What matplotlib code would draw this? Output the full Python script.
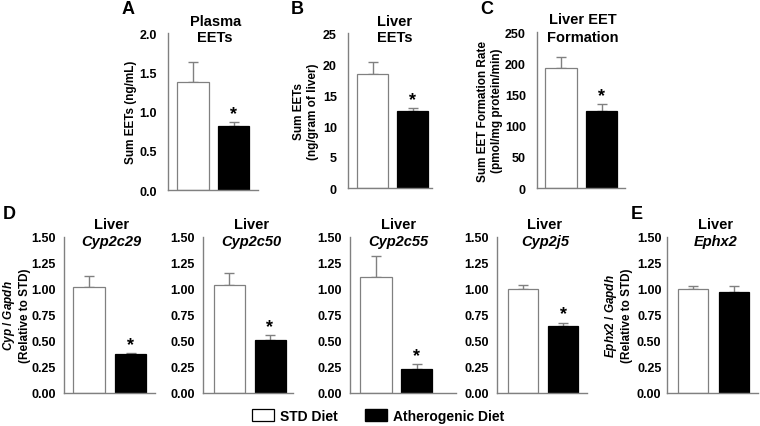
import matplotlib
matplotlib.use('Agg')
import matplotlib.pyplot as plt
from matplotlib.patches import Patch

plt.rcParams['font.family'] = ['Liberation Sans', 'DejaVu Sans']
plt.rcParams['font.weight'] = 'bold'
plt.rcParams['mathtext.fontset'] = 'custom'
plt.rcParams['mathtext.rm'] = 'Liberation Sans:bold'
plt.rcParams['mathtext.it'] = 'Liberation Sans:italic:bold'

# data (STD diet, atherogenic diet), upper error bars
groups = ['STD Diet', 'Atherogenic Diet']

plasma_eets = [1.38, 0.82]
plasma_err = [0.25, 0.05]

liver_eets = [18.4, 12.4]
liver_err = [1.9, 0.5]

eet_formation = [192, 124]
eet_formation_err = [18, 11]

cyp2c29 = [1.02, 0.37]
cyp2c29_err = [0.10, 0.01]
cyp2c50 = [1.04, 0.505]
cyp2c50_err = [0.115, 0.045]
cyp2c55 = [1.11, 0.23]
cyp2c55_err = [0.21, 0.045]
cyp2j5 = [1.00, 0.645]
cyp2j5_err = [0.04, 0.03]
ephx2 = [1.00, 0.97]
ephx2_err = [0.03, 0.06]

W, H = 760, 427
fig = plt.figure(figsize=(W / 100, H / 100), dpi=100)
GRAY = '#808080'


def panel(px, ytop, ybot, vals, errs, ymax, yticks, fmt, title, ylabel, label_x,
          star=True, italic2=False, pad=8):
    # px = (axis left, axis right, white bar left, white bar right, black bar left, black bar right)
    x0, x1, wl, wr, bl, br = px
    cw, cb = (wl + wr) / 2, (bl + br) / 2
    s = cb - cw
    ax = fig.add_axes([x0 / W, 1 - ybot / H, (x1 - x0) / W, (ybot - ytop) / H])
    bw = ((wr - wl) + (br - bl)) / 2 / s
    ax.bar([0, 1], vals, width=bw, color=['white', 'black'],
           edgecolor=[GRAY, 'black'], linewidth=0.9, zorder=2)
    ax.errorbar([0, 1], vals, yerr=[[0, 0], errs], fmt='none', ecolor=GRAY,
                elinewidth=1, capsize=3.5, capthick=1, zorder=1)
    ax.set_xlim((x0 - cw) / s, (x1 - cw) / s)
    ax.set_ylim(0, ymax)
    ax.set_yticks(yticks)
    ax.set_yticklabels([fmt.format(t) for t in yticks], fontsize=9, fontweight='bold')
    ax.set_xticks([])
    ax.tick_params(axis='y', length=0, pad=pad)
    for sp in ['top', 'right']:
        ax.spines[sp].set_visible(False)
    for sp in ['left', 'bottom']:
        ax.spines[sp].set_color(GRAY)
        ax.spines[sp].set_linewidth(1)
    if star:
        ax.annotate('*', (1, vals[1] + errs[1]), xytext=(0, 0), textcoords='offset points',
                    ha='center', va='bottom', fontsize=13, fontweight='bold')
    tcx = (cw + cb) / 2 + 2
    line1, line2 = title
    fig.text(tcx / W, 1 - (ytop - 12.5) / H, line1, ha='center', va='center',
             fontsize=10.5, fontweight='bold')
    fig.text(tcx / W, 1 - (ytop + 4.5) / H, line2, ha='center', va='center',
             fontsize=10.5, fontweight='bold', fontstyle='italic' if italic2 else 'normal')
    if ylabel:
        fig.text(label_x / W, 1 - ((ytop + ybot) / 2) / H, ylabel, ha='center', va='center',
                 rotation=90, fontsize=8.5, fontweight='bold', linespacing=1.15)
    return ax


# top row
panel((168, 258, 177, 209, 218, 249), 34, 191, plasma_eets, plasma_err, 2.0,
      [0, 0.5, 1.0, 1.5, 2.0], '{:.1f}', ('Plasma', 'EETs'), 'Sum EETs (ng/mL)', 131)
panel((348, 432, 357, 388, 397, 428), 34, 189, liver_eets, liver_err, 25,
      [0, 5, 10, 15, 20, 25], '{:.0f}', ('Liver', 'EETs'), 'Sum EETs\n(ng/gram of liver)', 306)
panel((537, 625, 545, 577, 586, 617), 33, 189, eet_formation, eet_formation_err, 250,
      [0, 50, 100, 150, 200, 250], '{:.0f}', ('Liver EET', 'Formation'),
      'Sum EET Formation Rate\n(pmol/mg protein/min)', 490)

# bottom row
dticks = [0, 0.25, 0.5, 0.75, 1.0, 1.25, 1.5]
cyp_label = '$Cyp$ / $Gapdh$\n(Relative to STD)'
panel((64, 155, 73, 105, 115, 146), 238, 393.5, cyp2c29, cyp2c29_err, 1.5, dticks, '{:.2f}',
      ('Liver', 'Cyp2c29'), cyp_label, 16, italic2=True, pad=6)
panel((203, 293, 213, 245, 255, 285), 238, 393.5, cyp2c50, cyp2c50_err, 1.5, dticks, '{:.2f}',
      ('Liver', 'Cyp2c50'), '', 0, italic2=True, pad=6)
panel((350, 456, 360, 392, 401, 432), 238, 393.5, cyp2c55, cyp2c55_err, 1.5, dticks, '{:.2f}',
      ('Liver', 'Cyp2c55'), '', 0, italic2=True, pad=6)
panel((497, 587, 508, 538, 548, 578), 238, 393.5, cyp2j5, cyp2j5_err, 1.5, dticks, '{:.2f}',
      ('Liver', 'Cyp2j5'), '', 0, italic2=True, pad=6)
panel((667, 758, 678, 708, 719, 749), 238, 393.5, ephx2, ephx2_err, 1.5, dticks, '{:.2f}',
      ('Liver', 'Ephx2'), '$Ephx2$ / $Gapdh$\n(Relative to STD)', 618,
      star=False, italic2=True, pad=4)

# panel letters
for letter, x, y in [('A', 128, 10), ('B', 297, 10), ('C', 487, 10), ('D', 9, 215), ('E', 637, 215)]:
    fig.text(x / W, 1 - y / H, letter, ha='center', va='center', fontsize=13, fontweight='bold')

handles = [Patch(facecolor='white', edgecolor='black', linewidth=0.9),
           Patch(facecolor='black', edgecolor='black')]
fig.legend(handles, groups, loc='center', bbox_to_anchor=(378 / W, 1 - 417 / H),
           ncol=2, frameon=False, handlelength=1.6, handleheight=1.0,
           handletextpad=0.4, columnspacing=2.0, prop={'weight': 'bold', 'size': 10})

fig.savefig('out.png', dpi=100)
